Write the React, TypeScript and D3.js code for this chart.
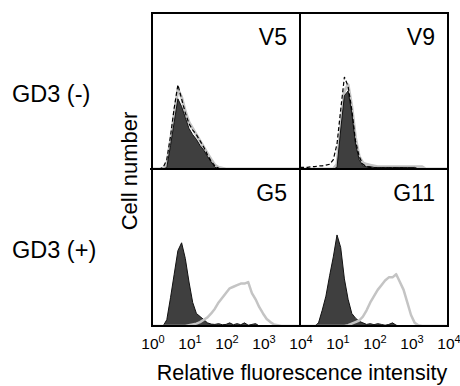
import * as d3 from 'd3'

// histogram counts, one value every 0.1 decade from 10^0 to 10^4 (41 points), % of panel height
const v5Filled = [0, 0, 0, 0, 1, 15, 30, 45, 40, 33, 26, 22, 19, 15, 12, 8, 4.5, 1, 0.5, 0, 0, 0, 0, 0, 0, 0, 0, 0, 0, 0, 0, 0, 0, 0, 0, 0, 0, 0, 0, 0, 0]
const v5Gray = [0, 0, 0, 0.5, 3, 18, 35, 51, 46, 37, 30, 26, 22, 18, 14, 10, 6, 2.5, 1, 0.5, 0, 0, 0, 0, 0, 0, 0, 0, 0, 0, 0, 0, 0, 0, 0, 0, 0, 0, 0, 0, 0]
const v5Dashed = [0, 0, 0, 1, 6, 21, 39, 54, 45, 36, 29, 25, 22, 18, 14, 9, 5, 2, 0.5, 0, 0, 0, 0, 0, 0, 0, 0, 0, 0, 0, 0, 0, 0, 0, 0, 0, 0, 0, 0, 0, 0]

const v9Filled = [0, 0, 0, 0, 0, 0, 0, 0, 0, 0, 1, 25, 47, 50, 36, 16, 6, 2, 1.5, 1.5, 1, 1, 1, 1, 1, 1, 1, 1, 1, 1, 1, 1, 0, 0, 0, 0, 0, 0, 0, 0, 0]
const v9Gray = [0, 0, 0, 0, 0, 0, 0, 0, 0, 0, 3, 28, 50, 54, 40, 20, 8, 4, 3, 2.5, 2, 1.5, 1.5, 1.5, 1.5, 1.5, 1.5, 1.5, 1.5, 1.5, 1.5, 1.5, 1.5, 1.5, 0, 0, 0, 0, 0, 0, 0]
const v9Dashed = [1, 1, 1, 1.5, 1.5, 2, 2, 2.5, 3, 6, 16, 38, 59, 53, 38, 18, 8, 3, 1.5, 1, 0.5, 0.5, 0.5, 0.5, 0.5, 0.5, 0.5, 0.5, 0.5, 0, 0, 0, 0, 0, 0, 0, 0, 0, 0, 0, 0]

const g5Filled = [0, 0, 0, 0, 4, 18, 33, 48, 53, 43, 28, 15, 8, 6, 4, 2, 1.2, 1, 1.5, 0.8, 1, 2, 0.8, 1.5, 0.8, 2, 0.5, 1, 1.5, 0, 0, 0, 0, 0, 0, 0, 0, 0, 0, 0, 0]
const g5Gray = [0, 0, 0, 0, 0, 0, 0, 0, 0, 0, 0.5, 1, 1.5, 2.5, 4, 5.5, 8, 11, 15, 18, 21, 24, 25, 26, 27, 27, 28, 21, 17, 12, 8, 4.5, 2.5, 1, 0.5, 0, 0, 0, 0, 0, 0]

const g11Filled = [0, 0, 0, 0, 0, 2, 10, 19, 32, 44, 58, 50, 30, 17, 8, 5, 3, 2, 1, 1.5, 0.8, 1.5, 1, 0.5, 1, 2, 0.5, 0, 0, 0, 0, 0, 0, 0, 0, 0, 0, 0, 0, 0, 0]
const g11Gray = [0, 0, 0, 0, 0, 0, 0, 0, 0, 0, 0, 0, 0, 0.5, 1.5, 2.5, 3.5, 6, 10, 15, 19, 23, 26, 29, 31, 31, 33, 28, 23, 15, 7, 2, 0.5, 0, 0, 0, 0, 0, 0, 0, 0]

const panelNames = ['V5', 'V9', 'G5', 'G11']
const rowLabels = ['GD3 (-)', 'GD3 (+)']
const tickExps = [0, 1, 2, 3, 4]

const panelData = [
  { filled: v5Filled, gray: v5Gray, dashed: v5Dashed },
  { filled: v9Filled, gray: v9Gray, dashed: v9Dashed },
  { filled: g5Filled, gray: g5Gray, dashed: null },
  { filled: g11Filled, gray: g11Gray, dashed: null },
]

const W = 460
const H = 386
const left = 152
const right = 448
const top = 13
const bottom = 326
const midX = 300
const midY = 169

const font = "'Liberation Sans', Arial, Helvetica, sans-serif"

export default function App() {
  const cols = [
    [left, midX],
    [midX, right],
  ]
  const rows = [
    [top, midY],
    [midY, bottom],
  ]

  return (
    <svg width={W} height={H} style={{ position: 'absolute', left: 0, top: 0, background: '#fff' }} fontFamily={font}>
      <defs>
        {panelNames.map((name, i) => {
          const [x0, x1] = cols[i % 2]
          const [y0, y1] = rows[Math.floor(i / 2)]
          return (
            <clipPath id={`clip-${name}`} key={name}>
              <rect x={x0} y={y0} width={x1 - x0} height={y1 - y0} />
            </clipPath>
          )
        })}
      </defs>

      {panelNames.map((name, i) => {
        const [x0, x1] = cols[i % 2]
        const [y0, y1] = rows[Math.floor(i / 2)]
        const x = d3.scaleLog().domain([1, 1e4]).range([x0, x1])
        const y = d3.scaleLinear().domain([0, 100]).range([y1, y0])
        const xv = (_d: number, k: number) => x(Math.pow(10, k / 10))
        const area = d3.area<number>().x(xv).y0(y(0)).y1(d => y(d))
        const line = d3.line<number>().x(xv).y(d => y(d))
        const { filled, gray, dashed } = panelData[i]
        const isTop = i < 2
        return (
          <g key={name} clipPath={`url(#clip-${name})`}>
            {isTop && <path d={line(gray) ?? ''} fill="none" stroke="#c4c4c4" strokeWidth={3} strokeLinejoin="round" />}
            <path d={area(filled) ?? ''} fill="#3f3f3f" stroke="#111" strokeWidth={1} />
            {!isTop && <path d={line(gray) ?? ''} fill="none" stroke="#c4c4c4" strokeWidth={2.5} strokeLinejoin="round" />}
            {dashed && <path d={line(dashed) ?? ''} fill="none" stroke="#000" strokeWidth={1.2} strokeDasharray="4,2.5" />}
          </g>
        )
      })}

      {/* frame */}
      <rect x={left} y={top} width={right - left} height={bottom - top} fill="none" stroke="#000" strokeWidth={2} />
      <line x1={midX} x2={midX} y1={top} y2={bottom} stroke="#000" strokeWidth={2} />
      <line x1={left - 2} x2={right} y1={midY} y2={midY} stroke="#000" strokeWidth={2} />

      {/* panel labels */}
      {panelNames.map((name, i) => {
        const [, x1] = cols[i % 2]
        const [y0] = rows[Math.floor(i / 2)]
        return (
          <text key={name} x={x1 - 13} y={y0 + 32} textAnchor="end" fontSize={23} fill="#000">
            {name}
          </text>
        )
      })}

      {/* x tick labels */}
      {cols.map(([x0, x1], c) => {
        const x = d3.scaleLog().domain([1, 1e4]).range([x0, x1])
        return tickExps
          .filter(e => !(c === 1 && e === 0))
          .map(e => (
            <text key={`${c}-${e}`} x={x(Math.pow(10, e)) + 1} y={349} textAnchor="middle" fontSize={15.5} fill="#000">
              10<tspan fontSize={11} dy={-6}>{e}</tspan>
            </text>
          ))
      })}

      <text x={302} y={380} textAnchor="middle" fontSize={21.5} fill="#000">
        Relative fluorescence intensity
      </text>
      <text transform={`translate(137,171) rotate(-90)`} textAnchor="middle" fontSize={22} fill="#000">
        Cell number
      </text>

      {rowLabels.map((label, r) => (
        <text key={label} x={12} y={r === 0 ? 102 : 258} fontSize={23.5} fill="#000">
          {label}
        </text>
      ))}
    </svg>
  )
}
